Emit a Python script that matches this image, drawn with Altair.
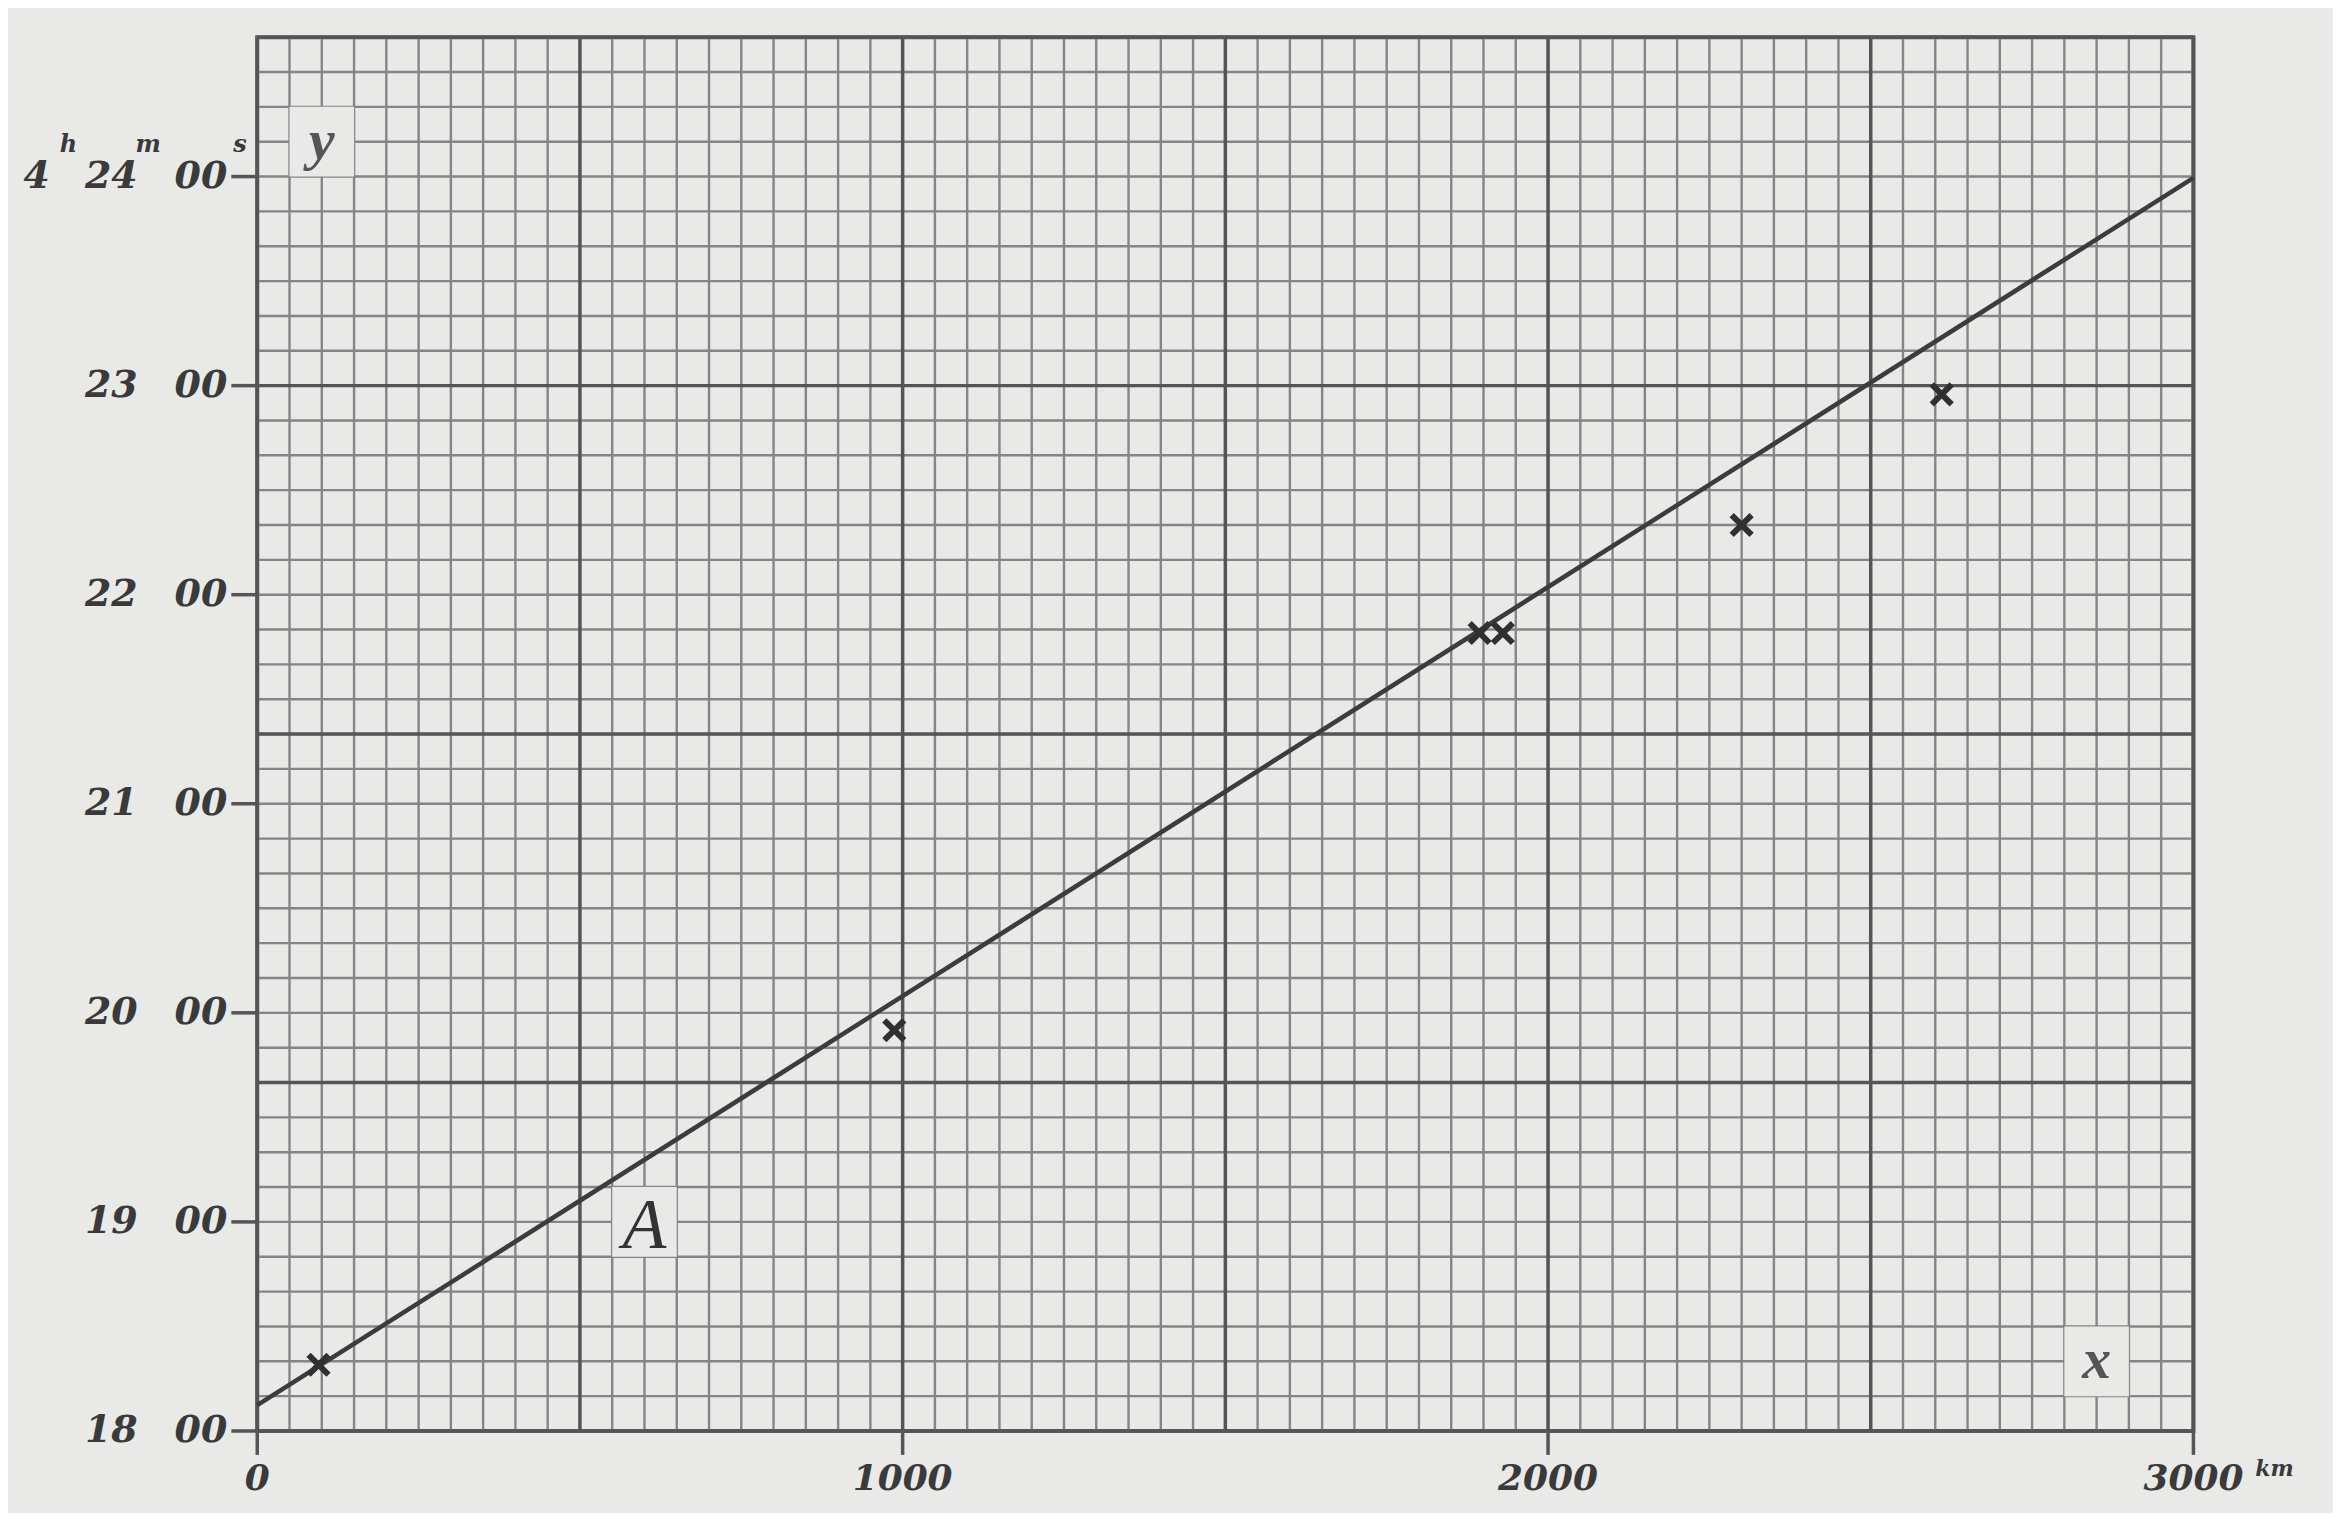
import altair as alt
import pandas as pd

# ---------------- data ----------------
# distance in km, time in seconds after 4h 18m 00s
dist_km = [95, 987, 1894, 1930, 2300, 2610]
time_s = [19, 115, 229, 229, 260, 297.5]

# fitted straight line A
line_km = [0, 3000]
line_s = [7.4, 359.6]

# graph-paper rulings
x_minor = list(range(0, 3001, 50))
x_major = list(range(0, 3001, 500))
y_minor = list(range(0, 401, 10))
y_major = list(range(0, 401, 100))

# axis ticks / labels
y_tick_vals = [0, 60, 120, 180, 240, 300, 360]
y_min_labels = ["18", "19", "20", "21", "22", "23", "24"]
y_sec_labels = ["00", "00", "00", "00", "00", "00", "00"]
x_tick_vals = [0, 1000, 2000, 3000]
x_tick_labels = ["0", "1000", "2000", "3000"]

# annotation labels inside the grid (text, x, y) and their cleared patches
ann_text = ["y", "A", "x"]
ann_x = [100, 600, 2850]
ann_y = [370, 60, 20]
patch_x1 = [50, 550, 2800]
patch_x2 = [150, 650, 2900]
patch_y1 = [360, 50, 10]
patch_y2 = [380, 70, 30]

# ---------------- styling ----------------
W, H = 1942, 1398
BG = "#e9e9e8"
MINOR = "#858585"
MAJOR = "#555555"
INK = "#3a3a3a"
FONT = "DejaVu Serif"

xs = alt.Scale(domain=[0, 3000], nice=False, zero=False)
ys = alt.Scale(domain=[0, 400], nice=False, zero=False)

pts = pd.DataFrame({"km": dist_km, "s": time_s})
ln = pd.DataFrame({"km": line_km, "s": line_s})

def vrules(vals, color, w):
    return alt.Chart(pd.DataFrame({"v": vals})).mark_rule(color=color, strokeWidth=w).encode(
        x=alt.X("v:Q", scale=xs, axis=None))

def hrules(vals, color, w):
    return alt.Chart(pd.DataFrame({"v": vals})).mark_rule(color=color, strokeWidth=w).encode(
        y=alt.Y("v:Q", scale=ys, axis=None))

grid = (vrules(x_minor, MINOR, 2.4) + hrules(y_minor, MINOR, 2.4)
        + vrules(x_major, MAJOR, 3.5) + hrules(y_major, MAJOR, 3.5))

# cleared patches behind in-grid labels
patches = alt.Chart(pd.DataFrame({"x1": patch_x1, "x2": patch_x2, "y1": patch_y1, "y2": patch_y2})).mark_rect(
    color=BG).encode(
    x=alt.X("x1:Q", scale=xs, axis=None), x2="x2:Q",
    y=alt.Y("y1:Q", scale=ys, axis=None), y2="y2:Q")

# y ticks and labels
ydf = pd.DataFrame({"v": y_tick_vals, "m": y_min_labels, "sec": y_sec_labels})
yticks = alt.Chart(ydf).mark_rule(color=MAJOR, strokeWidth=3.5).encode(
    y=alt.Y("v:Q", scale=ys, axis=None), x=alt.value(-26), x2=alt.value(0))
lab_style = dict(font=FONT, fontStyle="italic", fontWeight="bold", fontSize=38, color=INK,
                 baseline="middle", align="right")
ymin = alt.Chart(ydf).mark_text(**lab_style).encode(
    y=alt.Y("v:Q", scale=ys, axis=None), x=alt.value(-120), text="m:N")
ysec = alt.Chart(ydf).mark_text(**lab_style).encode(
    y=alt.Y("v:Q", scale=ys, axis=None), x=alt.value(-30), text="sec:N")

top = pd.DataFrame({"v": [y_tick_vals[-1]], "hr": ["4"], "h": ["h"], "mm": ["m"], "ss": ["s"]})
hour = alt.Chart(top).mark_text(**lab_style).encode(
    y=alt.Y("v:Q", scale=ys, axis=None), x=alt.value(-208), text="hr:N")
sup_style = dict(font=FONT, fontStyle="italic", fontWeight="bold", fontSize=24, color=INK,
                 baseline="middle", align="left", dy=-32)
sup_h = alt.Chart(top).mark_text(**sup_style).encode(
    y=alt.Y("v:Q", scale=ys, axis=None), x=alt.value(-198), text="h:N")
sup_m = alt.Chart(top).mark_text(**sup_style).encode(
    y=alt.Y("v:Q", scale=ys, axis=None), x=alt.value(-122), text="mm:N")
sup_s = alt.Chart(top).mark_text(**sup_style).encode(
    y=alt.Y("v:Q", scale=ys, axis=None), x=alt.value(-24), text="ss:N")

# x ticks and labels
xdf = pd.DataFrame({"v": x_tick_vals, "t": x_tick_labels})
xticks = alt.Chart(xdf).mark_rule(color=MAJOR, strokeWidth=3.5).encode(
    x=alt.X("v:Q", scale=xs, axis=None), y=alt.value(H), y2=alt.value(H + 24))
xlab = alt.Chart(xdf).mark_text(font=FONT, fontStyle="italic", fontWeight="bold", fontSize=36,
                                color=INK, baseline="middle", align="center").encode(
    x=alt.X("v:Q", scale=xs, axis=None), y=alt.value(H + 48), text="t:N")
km = alt.Chart(pd.DataFrame({"v": [x_tick_vals[-1]], "u": ["km"]})).mark_text(
    font=FONT, fontStyle="italic", fontWeight="bold", fontSize=22, color=INK,
    baseline="middle", align="left", dx=62).encode(
    x=alt.X("v:Q", scale=xs, axis=None), y=alt.value(H + 38), text="u:N")

# fitted line A
line = alt.Chart(ln).mark_line(color="#3c3c3c", strokeWidth=4.5).encode(
    x=alt.X("km:Q", scale=xs, axis=None), y=alt.Y("s:Q", scale=ys, axis=None))

# observations (crosses)
cross = "M-1,-1L1,1M-1,1L1,-1"
points = alt.Chart(pts).mark_point(shape=cross, size=400, strokeWidth=6, color="#303030",
                                   opacity=1).encode(
    x=alt.X("km:Q", scale=xs, axis=None), y=alt.Y("s:Q", scale=ys, axis=None))

# in-grid labels
adf = pd.DataFrame({"t": ann_text, "x": ann_x, "y": ann_y})
ann_small = alt.Chart(adf[adf.t != "A"]).mark_text(
    font="Liberation Serif", fontStyle="italic", fontWeight="bold", fontSize=58, color="#555555",
    baseline="middle", align="center").encode(
    x=alt.X("x:Q", scale=xs, axis=None), y=alt.Y("y:Q", scale=ys, axis=None), text="t:N")
ann_A = alt.Chart(adf[adf.t == "A"]).mark_text(
    font="Liberation Serif", fontStyle="italic", fontSize=72, color="#333333",
    baseline="middle", align="center", dy=4).encode(
    x=alt.X("x:Q", scale=xs, axis=None), y=alt.Y("y:Q", scale=ys, axis=None), text="t:N")

chart = alt.layer(
    grid, patches, yticks, ymin, ysec, hour, sup_h, sup_m, sup_s,
    xticks, xlab, km, line, points, ann_small, ann_A
).properties(
    width=W, height=H,
    autosize=alt.AutoSizeParams(type="none"),
    padding={"left": 250, "top": 27, "right": 140, "bottom": 80},
    background=BG,
).configure_view(stroke=MAJOR, strokeWidth=4, fill=BG)

chart.save("out.html", embed_options={"renderer": "svg", "actions": False})
